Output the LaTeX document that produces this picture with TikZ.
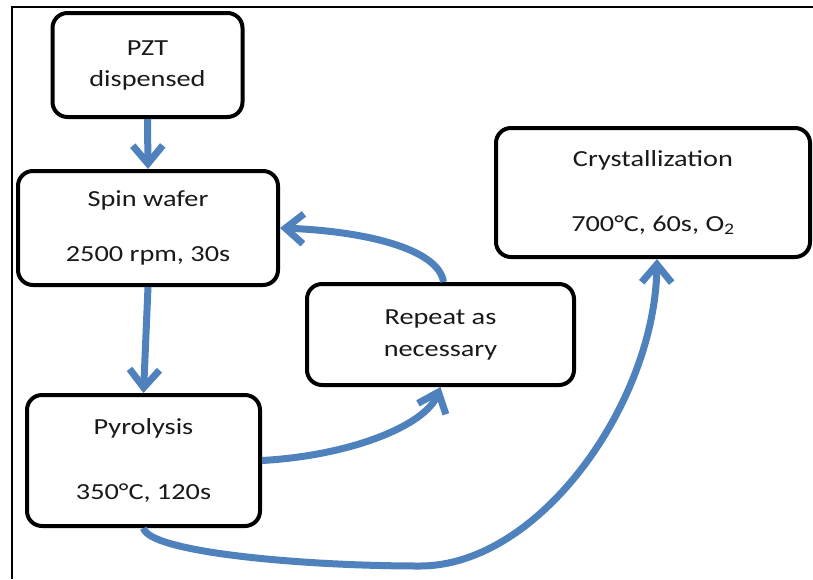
\documentclass[tikz,border=0pt]{standalone}
\usepackage{fontspec}
\setmainfont[FakeStretch=1.23]{Carlito}
\usetikzlibrary{arrows.meta}
\definecolor{flowblue}{HTML}{4F81BD}
\tikzset{
  stepbox/.style={draw=black, line width=4pt, rounded corners=15pt, fill=white,
    inner sep=0pt, align=center, text=black!90,
    font=\fontsize{23}{31}\selectfont},
  flow/.style={draw=flowblue, line width=7pt,
    -{Straight Barb[length=18pt,width=30pt,line width=7pt]}},
}
\begin{document}
\begin{tikzpicture}[x=1pt,y=-1pt]
\useasboundingbox (0,0) rectangle (813,579);
\coordinate (ftl) at (12,7);
\coordinate (ftr) at (813,7);
\coordinate (fbl) at (12,579);
\draw[line width=2.5pt] (fbl) -- (ftl) -- (ftr);

\node[stepbox, minimum width=190pt, minimum height=104pt] (pzt) at (147.5,65) {PZT\\dispensed};
\node[stepbox, minimum width=260pt, minimum height=114pt] (spin) at (148,228) {Spin wafer\\[24pt]2500 rpm, 30s};
\node[stepbox, minimum width=233pt, minimum height=131pt] (pyro) at (143.5,460.5) {Pyrolysis\\[34pt]350°C, 120s};
\node[stepbox, minimum width=267pt, minimum height=101pt] (rep) at (440.5,334.5) {Repeat as\\[1pt]necessary};
\node[stepbox, minimum width=314pt, minimum height=129pt] (crys) at (653,192.5) {Crystallization\\[34pt]700°C, 60s, O\textsubscript{2}};

\coordinate (low) at (420,566);

\draw[flow] (pzt.south) -- (spin.north);
\draw[flow] (spin.south) -- (pyro.north);
\draw[flow] (pyro.east) .. controls +(90,-5) and +(-15,38) .. (rep.south);
\draw[flow] ([xshift=3pt]rep.north) .. controls +(-5,-34) and +(82,3) .. (spin.east);
\draw[flow] (pyro.south) .. controls +(5,24) and +(-120,0) .. (low)
  .. controls +(120,0) and +(-2,143) .. ([xshift=4pt]crys.south);
\end{tikzpicture}
\end{document}
